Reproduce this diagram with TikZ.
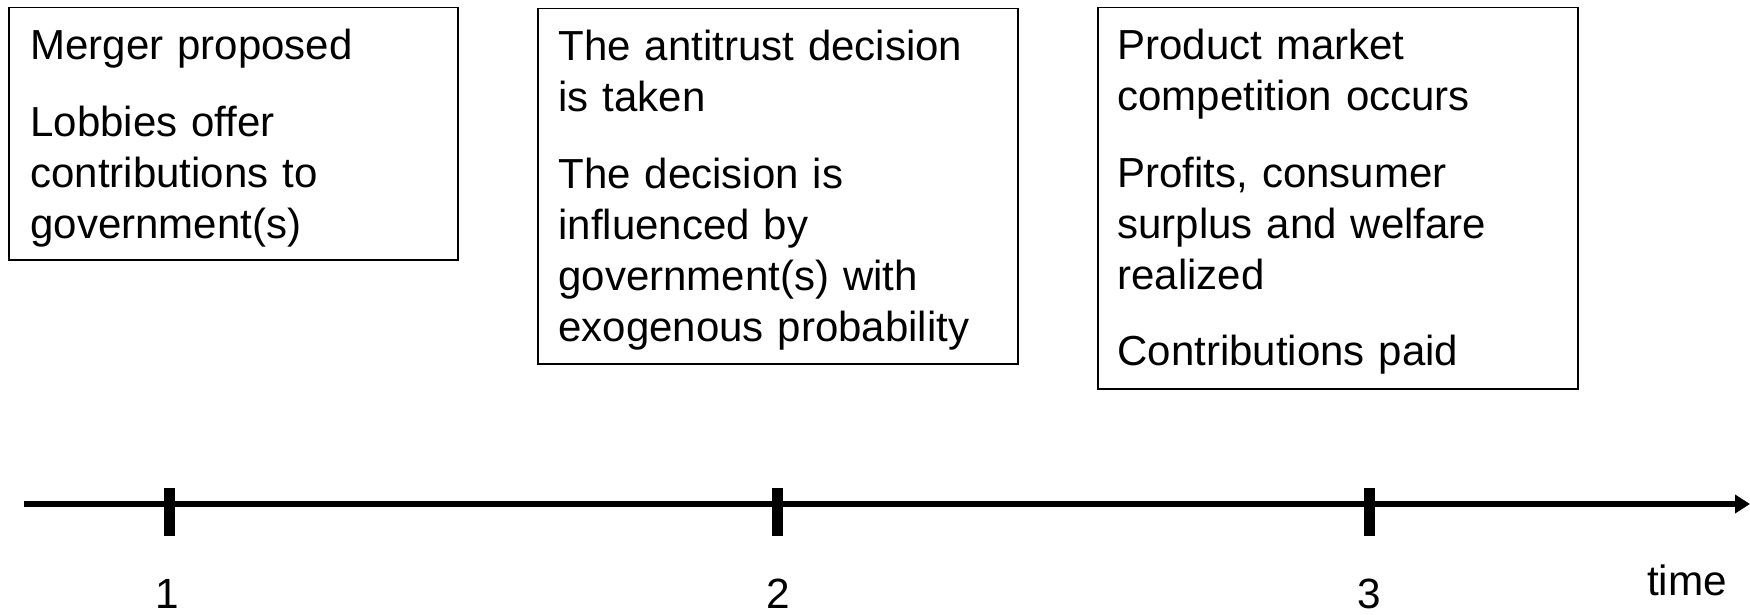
\documentclass[tikz,border=0pt]{standalone}
\usepackage{fontspec}
\setmainfont{Liberation Sans}
\usetikzlibrary{arrows.meta}
\begin{document}
\begin{tikzpicture}[x=0.5pt,y=-0.5pt,
  stage/.style={draw=black, line width=0.75pt, anchor=north west, inner sep=0pt},
  stagetext/.style={anchor=base west, inner sep=0pt, text width=240pt, align=left,
    font=\fontsize{21pt}{25.5pt}\selectfont},
  tickmark/.style={line width=5.5pt},
  axis/.style={line width=3pt, -{Triangle[length=7.5pt,width=9pt]}},
  ticklabel/.style={anchor=base, inner sep=0pt, font=\fontsize{21.15pt}{25.5pt}\selectfont}]

% canvas
\useasboundingbox (0,0) rectangle (1750,615);

% stage boxes
\node[stage, minimum width=224.5pt, minimum height=126pt] (box1) at (8,7) {};
\node[stage, minimum width=240pt, minimum height=177.5pt] (box2) at (537,8) {};
\node[stage, minimum width=240pt, minimum height=190.5pt] (box3) at (1097,7) {};

% stage descriptions
\node[stagetext] (text1) at (30,60)
  {Merger proposed\\[12.75pt]
   Lobbies offer\\ contributions to\\ government(s)};
\node[stagetext] (text2) at (558,61)
  {The antitrust decision\\ is taken\\[12.75pt]
   The decision is\\ influenced by\\ government(s) with\\ exogenous probability};
\node[stagetext] (text3) at (1117,60)
  {Product market\\ competition occurs\\[12.75pt]
   Profits, consumer\\ surplus and welfare\\ realized\\[12.75pt]
   Contributions paid};

% time axis
\coordinate (axisstart) at (24,504);
\coordinate (axisend) at (1750,504);
\draw[axis] (axisstart) -- (axisend);

% ticks
\foreach \tx/\nm in {169/one, 777/two, 1369/three} {
  \coordinate (tick\nm top) at (\tx,488);
  \coordinate (tick\nm bot) at (\tx,536);
  \draw[tickmark] (tick\nm top) -- (tick\nm bot);
}

% tick labels
\node[ticklabel] (lab1) at (167,608) {1};
\node[ticklabel] (lab2) at (778,608) {2};
\node[ticklabel] (lab3) at (1369,608) {3};
\node[ticklabel] (timelabel) at (1687,595) {time};
\end{tikzpicture}
\end{document}
